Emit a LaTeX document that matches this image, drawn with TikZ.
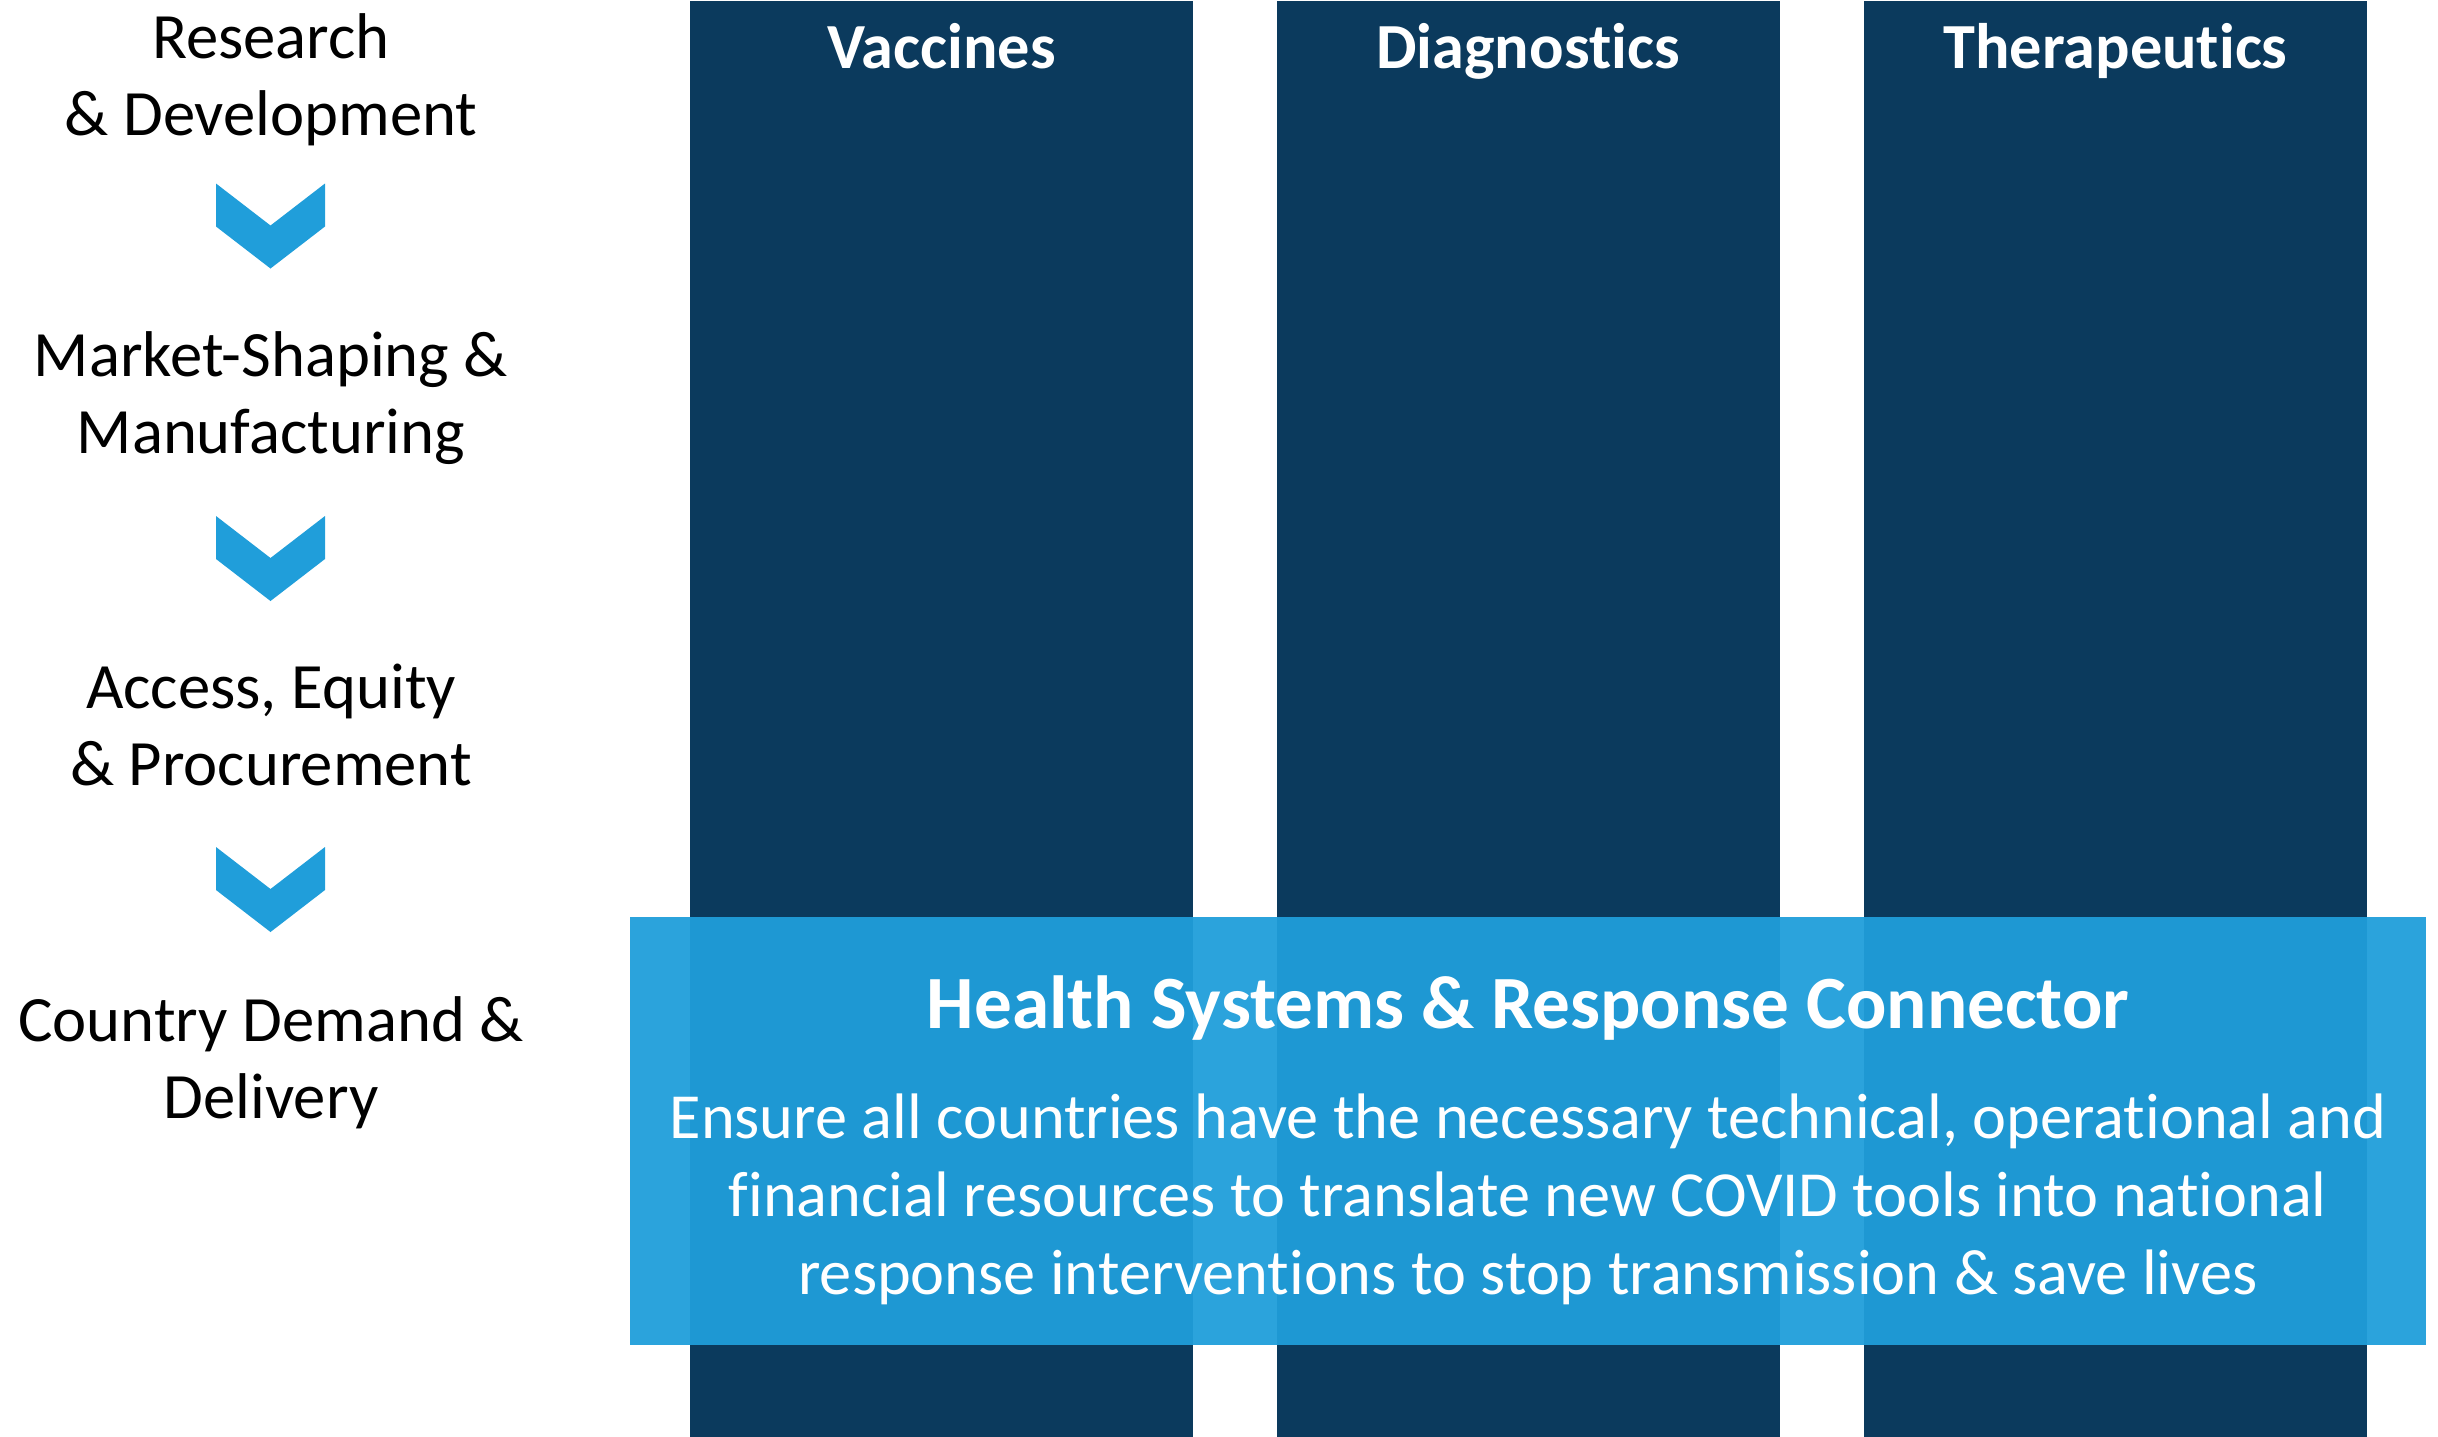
\documentclass[tikz,border=0pt]{standalone}
\usepackage{fontspec}
\setmainfont{Carlito}[RawFeature={-liga;-dlig;-calt}]
\usetikzlibrary{positioning}

\definecolor{actnavy}{RGB}{11,58,93}
\definecolor{actblue}{RGB}{32,158,218}
\tikzset{
  pillar/.style={fill=actnavy, draw=none, minimum width=5.03cm, minimum height=14.37cm, anchor=north, inner sep=0pt},
  pillartitle/.style={text=white, anchor=base, font=\fontsize{18.3}{22}\selectfont\bfseries},
  stage/.style={align=center, font=\fontsize{18.4}{21.8}\selectfont},
  connector/.style={fill=actblue, fill opacity=0.95, draw=none, minimum width=17.96cm, minimum height=4.28cm, inner sep=0pt},
  chev/.pic={\fill[actblue] (-0.545,0) -- (0,-0.42) -- (0.545,0) -- (0.545,-0.43) -- (0,-0.85) -- (-0.545,-0.43) -- cycle;}
}

\begin{document}
\begin{tikzpicture}
  \useasboundingbox (0,0) rectangle (24.38,-14.37);

  % pillars
  \node[pillar] (vac) at (9.415,0) {};
  \node[pillar] (dia) at (15.28,0) {};
  \node[pillar] (the) at (21.155,0) {};
  \node[pillartitle] (vact) at ([yshift=-0.68cm]vac.north) {Vaccines};
  \node[pillartitle] (diat) at ([yshift=-0.68cm]dia.north) {Diagnostics};
  \node[pillartitle] (thet) at ([yshift=-0.68cm]the.north) {Therapeutics};

  % stages
  \node[stage] (rd) at (2.71,-0.80) {Research\\\& Development};
  \node[stage] (ms) at (2.71,-3.98) {Market-Shaping \&\\Manufacturing};
  \node[stage] (ae) at (2.71,-7.25) {Access, Equity\\\& Procurement};
  \node[stage] (cd) at (2.71,-10.63) {Country Demand \&\\Delivery};
  \coordinate (c1) at (2.705,-1.835);
  \coordinate (c2) at (2.705,-5.16);
  \coordinate (c3) at (2.705,-8.47);
  \foreach \c in {c1,c2,c3}
    \pic at (\c) {chev};

  % connector
  \node[connector] (hsrc) at (15.28,-11.31) {};
  \node[text=white, font=\fontsize{21.4}{25}\selectfont\bfseries] (hsrct) at (15.28,-10.08) {Health Systems \& Response Connector};
  \node[text=white, align=center, font=\fontsize{18.3}{22.2}\selectfont] (hsrcb) at (15.28,-11.99)
    {Ensure all countries have the necessary technical, operational and\\financial resources to translate new COVID tools into national\\response interventions to stop transmission \& save lives};
\end{tikzpicture}
\end{document}
